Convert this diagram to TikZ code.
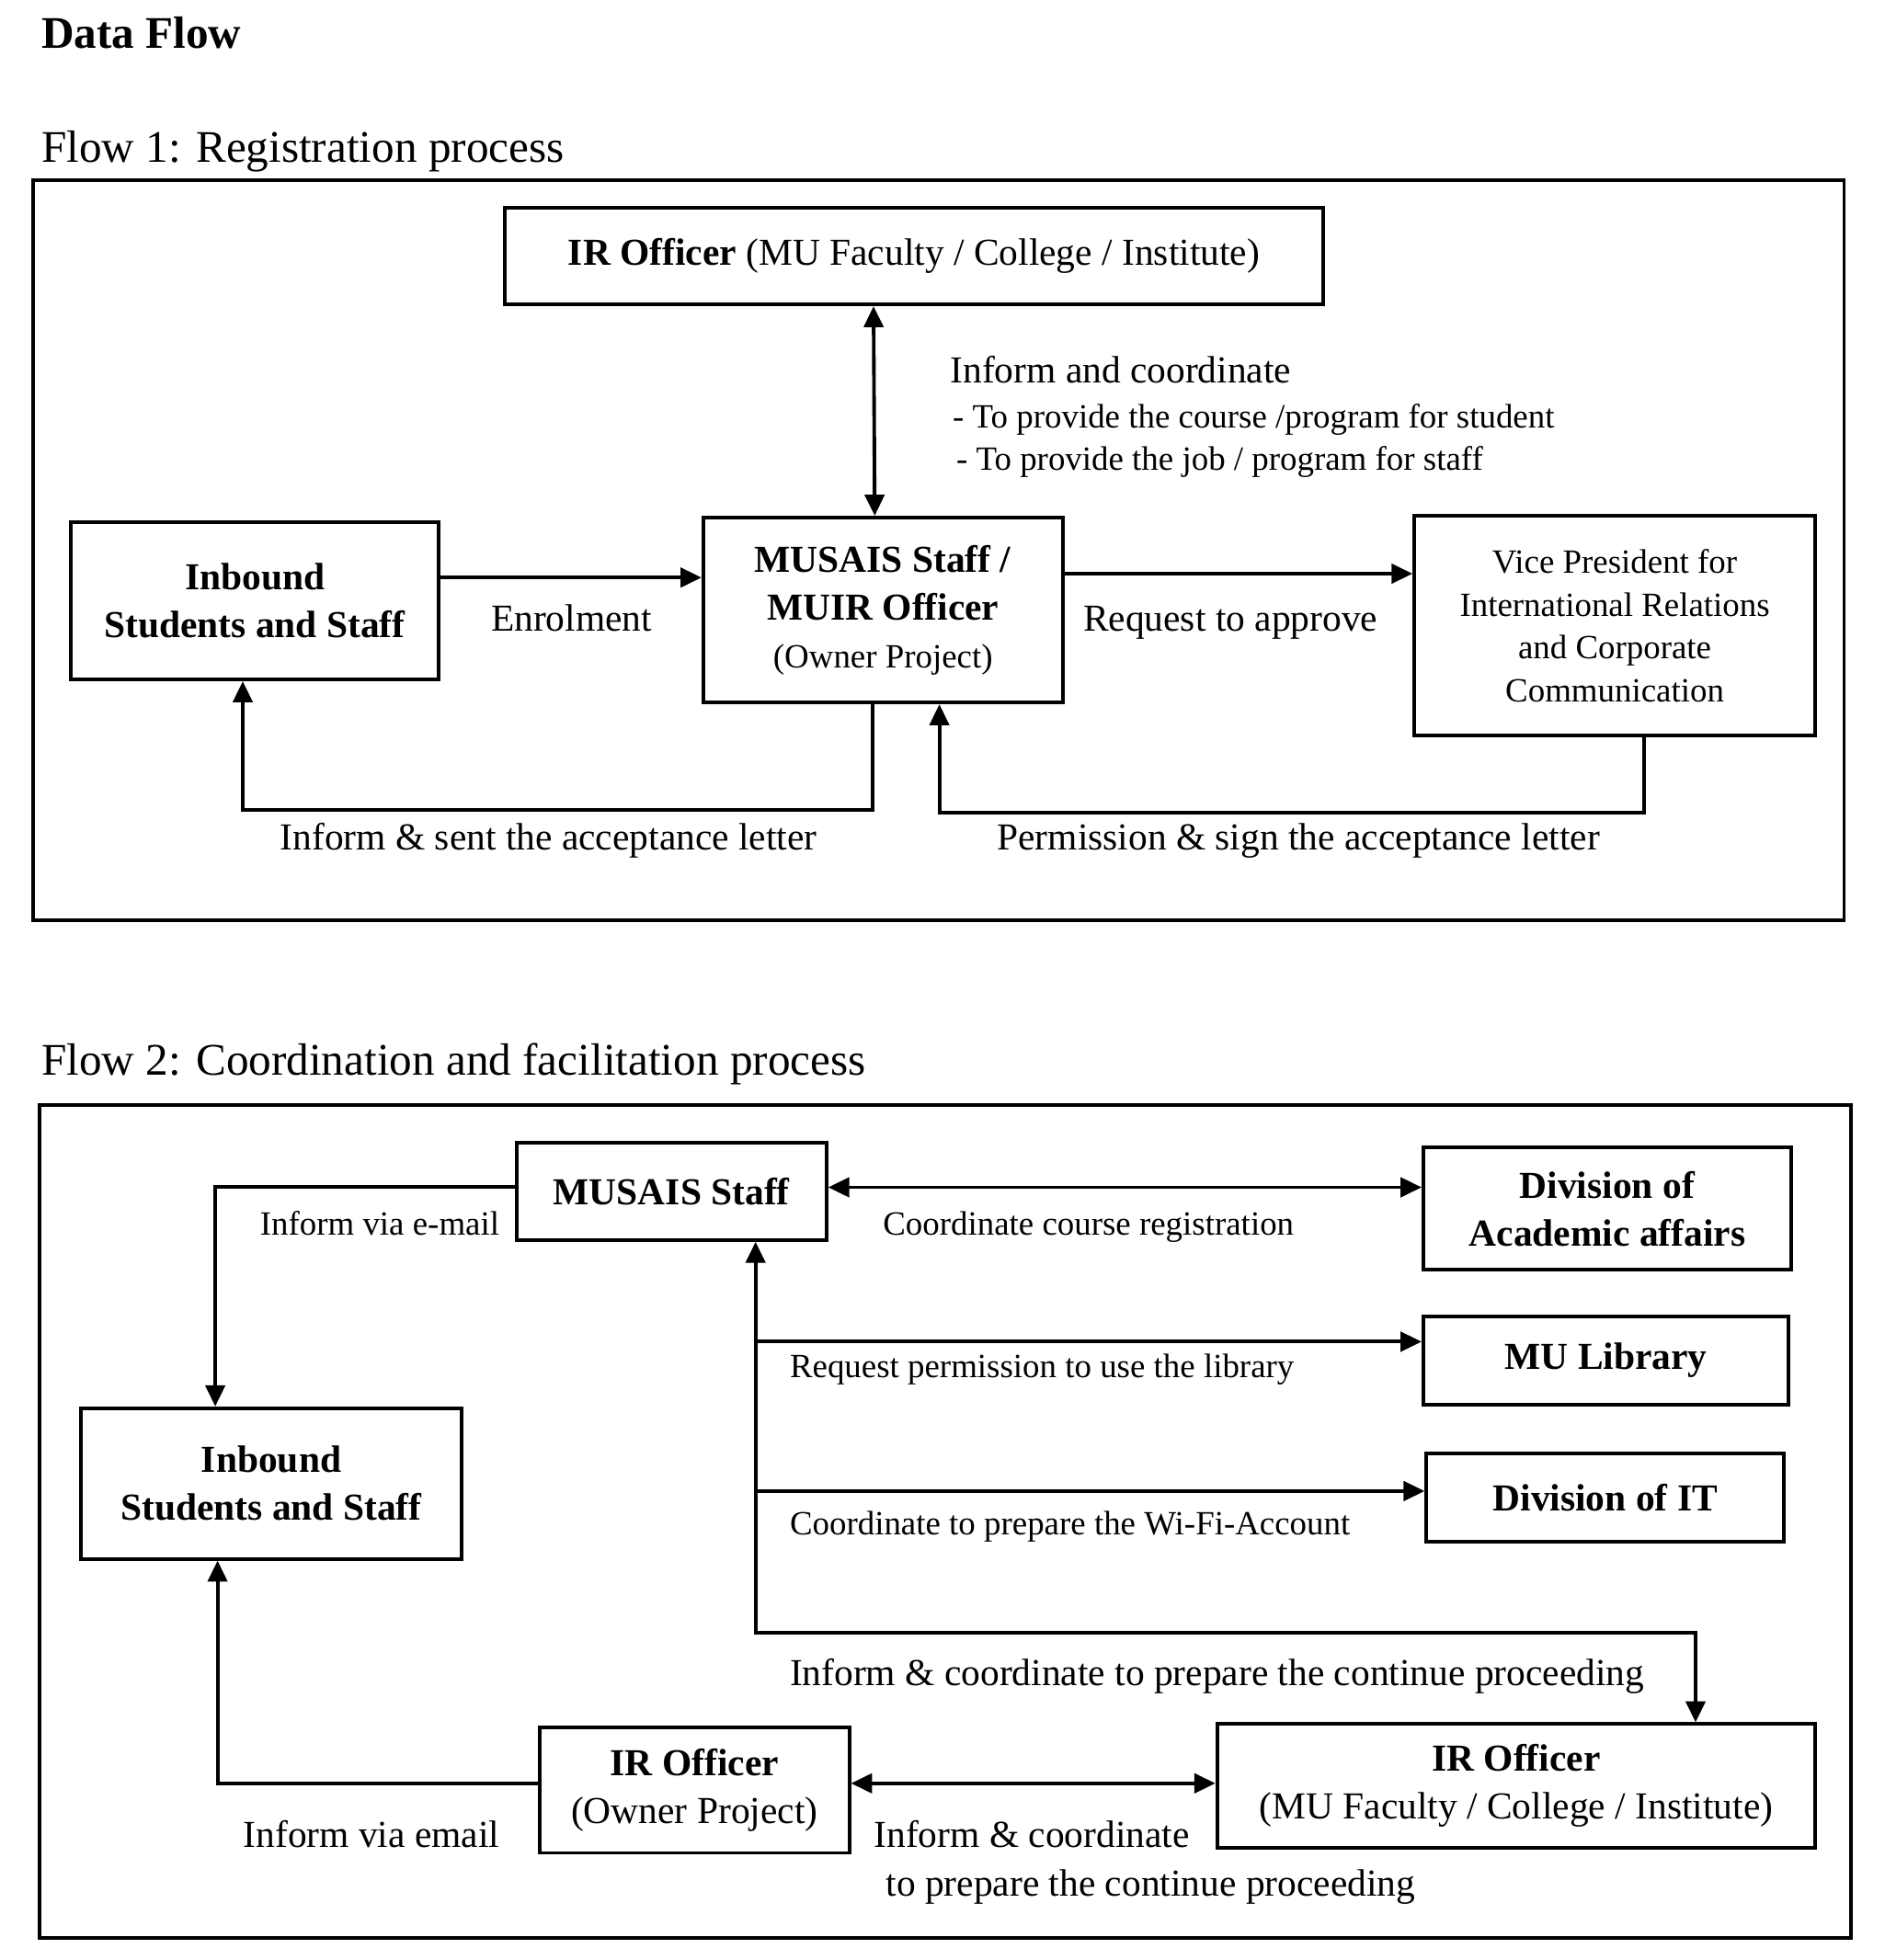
\documentclass[tikz,border=0pt]{standalone}
\usepackage{fontspec}
\setmainfont{Liberation Serif}
\usepackage{tikz}
\usetikzlibrary{arrows.meta}
\newcommand{\fstitle}{\fontsize{14}{17}\selectfont}
\newcommand{\fsmain}{\fontsize{11.8}{14.8}\selectfont}
\newcommand{\fssmall}{\fontsize{10.5}{13.2}\selectfont}

\begin{document}
\begin{tikzpicture}[
  box/.style={draw, line width=1.1pt, align=center, font=\fsmain, inner sep=2pt},
  lbl/.style={anchor=base west, font=\fsmain, inner sep=0pt},
  slbl/.style={anchor=base west, font=\fssmall, inner sep=0pt},
  link/.style={line width=1.1pt},
  >={Triangle[length=6.5pt,width=6pt]}
]
\useasboundingbox (0,0) rectangle (20.5,-21.32);

% Flow 1
\node[anchor=base west, font=\fstitle\bfseries, inner sep=0pt] (title) at (0.444,-0.52) {Data Flow};
\node[anchor=base west, font=\fstitle, inner sep=0pt] (flowA) at (0.444,-1.768) {Flow 1: Registration process};
\draw[line width=1.1pt] (0.357,-1.957) rectangle (20.055,-10.014);

\node[box, minimum width=8.9cm, minimum height=1.054cm] (irA) at (9.94,-2.784)
  {\textbf{IR Officer} (MU Faculty / College / Institute)};
\node[box, minimum width=4.0cm, minimum height=1.707cm] (inbA) at (2.772,-6.537)
  {\textbf{Inbound}\\\textbf{Students and Staff}};
\node[box, minimum width=3.909cm, minimum height=2.012cm] (musA) at (9.603,-6.635)
  {\textbf{MUSAIS Staff /}\\\textbf{MUIR Officer}\\{\fssmall (Owner Project)}};
\node[box, font=\fssmall, minimum width=4.36cm, minimum height=2.393cm] (vpA) at (17.561,-6.806)
  {Vice President for\\International Relations\\and Corporate\\Communication};

\coordinate (enr) at ([yshift=2.55mm]inbA.east);
\coordinate (req) at ([yshift=3.95mm]musA.east);
\draw[link, <->] ([xshift=-4.4mm]irA.south) -- ([xshift=-0.9mm]musA.north);
\draw[link, ->] (enr) -- (enr -| musA.west);
\draw[link, ->] (req) -- (req -| vpA.west);
\draw[link, ->] ([xshift=-1.1mm]musA.south) -- ++(0,-1.149) -| ([xshift=-1.32mm]inbA.south);
\draw[link, ->] ([xshift=3.23mm]vpA.south) -- ++(0,-0.816) -| ([xshift=6.13mm]musA.south);

\node[lbl] (coA) at (10.328,-4.16) {Inform and coordinate};
\node[slbl] (coB) at (10.355,-4.657) {- To provide the course /program for student};
\node[slbl] (coC) at (10.394,-5.112) {- To provide the job / program for staff};
\node[lbl] (enrl) at (5.334,-6.866) {Enrolment};
\node[lbl] (reql) at (11.773,-6.866) {Request to approve};
\node[lbl] (sent) at (3.04,-9.246) {Inform \& sent the acceptance letter};
\node[lbl] (perm) at (10.838,-9.246) {Permission \& sign the acceptance letter};

% Flow 2
\node[anchor=base west, font=\fstitle, inner sep=0pt] (flowB) at (0.444,-11.691) {Flow 2: Coordination and facilitation process};
\draw[line width=1.1pt] (0.431,-12.02) rectangle (20.127,-21.08);

\node[box, minimum width=3.366cm, minimum height=1.06cm] (musB) at (7.305,-12.958)
  {\textbf{MUSAIS Staff}};
\node[box, minimum width=4.0cm, minimum height=1.329cm] (acadB) at (17.48,-13.146)
  {\textbf{Division of}\\\textbf{Academic affairs}};
\node[box, minimum width=3.974cm, minimum height=0.961cm] (libB) at (17.467,-14.798)
  {\textbf{MU Library}};
\node[box, minimum width=3.889cm, minimum height=0.967cm] (itB) at (17.457,-16.289)
  {\textbf{Division of IT}};
\node[box, minimum width=4.138cm, minimum height=1.639cm] (inbB) at (2.951,-16.137)
  {\textbf{Inbound}\\\textbf{Students and Staff}};
\node[box, minimum width=3.366cm, minimum height=1.362cm] (irownB) at (7.553,-19.474)
  {\textbf{IR Officer}\\(Owner Project)};
\node[box, minimum width=6.503cm, minimum height=1.349cm] (irfacB) at (16.489,-19.428)
  {\textbf{IR Officer}\\(MU Faculty / College / Institute)};

\coordinate (crs) at ([yshift=0.43mm]musB.east);
\coordinate (stem) at ([xshift=9.12mm]musB.south);
\coordinate (lib) at ([yshift=2.04mm]libB.west);
\coordinate (wifi) at ([yshift=0.7mm]itB.west);
\coordinate (cont) at ([yshift=0.76mm]irownB.east);
\draw[link, ->] ([yshift=0.5mm]musB.west) -| ([xshift=-6.1mm]inbB.north);
\draw[link, <->] (crs) -- (crs -| acadB.west);
\draw[link, <->] (stem) -- ++(0,-4.252) -| ([xshift=19.51mm]irfacB.north);
\draw[link, ->] (lib -| stem) -- (lib);
\draw[link, ->] (wifi -| stem) -- (wifi);
\draw[link, ->] ([yshift=0.76mm]irownB.west) -| ([xshift=-5.85mm]inbB.south);
\draw[link, <->] (cont) -- (cont -| irfacB.west);

\node[anchor=base east, font=\fssmall, inner sep=0pt] (mail) at (5.438,-13.435) {Inform via e-mail};
\node[slbl] (crsl) at (9.596,-13.435) {Coordinate course registration};
\node[slbl] (libl) at (8.583,-14.982) {Request permission to use the library};
\node[slbl] (wifil) at (8.583,-16.693) {Coordinate to prepare the Wi-Fi-Account};
\node[lbl] (contl) at (8.583,-18.338) {Inform \& coordinate to prepare the continue proceeding};
\node[lbl] (email) at (2.64,-20.096) {Inform via email};
\node[lbl] (irl) at (9.498,-20.096) {Inform \& coordinate};
\node[lbl] (irm) at (9.628,-20.622) {to prepare the continue proceeding};
\end{tikzpicture}
\end{document}
